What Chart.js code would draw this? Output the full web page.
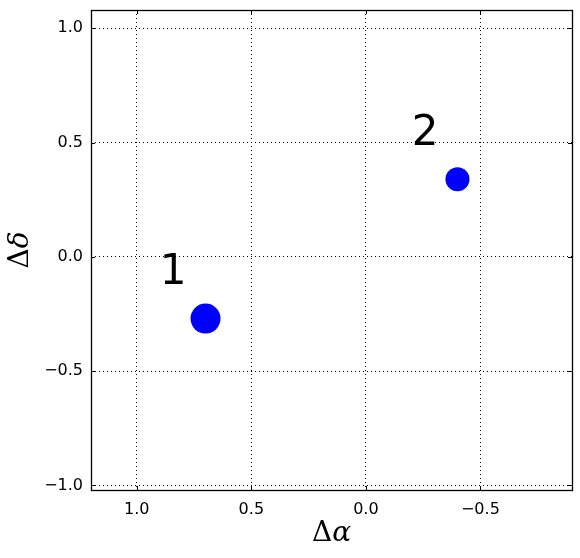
<!DOCTYPE html>
<html>
<head>
<meta charset="utf-8">
<script src="https://cdn.jsdelivr.net/npm/chart.js@4.4.0/dist/chart.umd.min.js"></script>
<style>
  html, body { margin: 0; padding: 0; background: #fff; }
  #wrap { width: 580px; height: 558px; }
</style>
</head>
<body>
<div id="wrap"><canvas id="offsetChart" width="580" height="558"></canvas></div>
<script>
// source offsets (arcsec)
const names = ['1', '2'];
const dAlpha = [0.70, -0.40];
const dDelta = [-0.27, 0.34];
const markerRadius = [15, 12];
// where the number labels sit (data coords, left/baseline)
const labelAlpha = [0.90, -0.20];
const labelDelta = [-0.12, 0.49];

const xTicks = [1.0, 0.5, 0.0, -0.5];
const yTicks = [-1.0, -0.5, 0.0, 0.5, 1.0];

const fmt = v => (v < 0 ? '\u2212' : '') + Math.abs(v).toFixed(1);

// frame, inward ticks, labels, axis titles
const decorations = {
  id: 'decorations',
  afterDraw(chart) {
    const { ctx, chartArea: a, scales: { x, y } } = chart;
    ctx.save();
    ctx.strokeStyle = '#000';
    ctx.lineWidth = 1;
    ctx.beginPath();
    xTicks.forEach(v => {
      const px = Math.round(x.getPixelForValue(v)) + 0.5;
      ctx.moveTo(px, a.bottom); ctx.lineTo(px, a.bottom - 4);
      ctx.moveTo(px, a.top); ctx.lineTo(px, a.top + 4);
    });
    yTicks.forEach(v => {
      const py = Math.round(y.getPixelForValue(v)) + 0.5;
      ctx.moveTo(a.left, py); ctx.lineTo(a.left + 4, py);
      ctx.moveTo(a.right, py); ctx.lineTo(a.right - 4, py);
    });
    ctx.stroke();
    ctx.lineWidth = 1.3;
    ctx.strokeRect(Math.round(a.left) + 0.5, Math.round(a.top) + 0.5,
      Math.round(a.right - a.left), Math.round(a.bottom - a.top));

    ctx.fillStyle = '#000';
    ctx.font = '42px "DejaVu Sans"';
    ctx.textAlign = 'left';
    ctx.textBaseline = 'alphabetic';
    names.forEach((n, i) => {
      ctx.fillText(n, x.getPixelForValue(labelAlpha[i]), y.getPixelForValue(labelDelta[i]));
    });

    // axis titles
    const drawTitle = (cx, cy, greek) => {
      ctx.font = '28px "DejaVu Serif"';
      const w1 = ctx.measureText('\u0394').width;
      ctx.font = 'italic 28px "DejaVu Serif"';
      const w2 = ctx.measureText(greek).width;
      const x0 = cx - (w1 + w2) / 2;
      ctx.textAlign = 'left';
      ctx.textBaseline = 'middle';
      ctx.font = '28px "DejaVu Serif"';
      ctx.fillText('\u0394', x0, cy);
      ctx.font = 'italic 28px "DejaVu Serif"';
      ctx.fillText(greek, x0 + w1, cy);
    };
    drawTitle((a.left + a.right) / 2, 534, '\u03b1');
    ctx.translate(21, (a.top + a.bottom) / 2);
    ctx.rotate(-Math.PI / 2);
    drawTitle(0, 0, '\u03b4');
    ctx.restore();
  }
};

const gridStyle = {
  color: '#000',
  lineWidth: 1,
  drawTicks: false
};

new Chart(document.getElementById('offsetChart').getContext('2d'), {
  type: 'scatter',
  data: {
    datasets: [{
      data: dAlpha.map((v, i) => ({ x: v, y: dDelta[i] })),
      backgroundColor: '#0000ff',
      borderWidth: 0,
      pointRadius: markerRadius,
      pointHoverRadius: markerRadius
    }]
  },
  options: {
    responsive: false,
    animation: false,
    events: [],
    layout: { autoPadding: false, padding: { top: 10, right: 8, left: 0, bottom: 0 } },
    plugins: { legend: { display: false }, tooltip: { enabled: false } },
    scales: {
      x: {
        type: 'linear',
        reverse: true,
        min: -0.9,
        max: 1.2,
        afterBuildTicks: s => { s.ticks = xTicks.map(v => ({ value: v })); },
        afterFit: s => { s.height = 68; s.paddingLeft = 0; s.paddingRight = 0; },
        grid: gridStyle,
        border: { display: false, dash: [1, 3] },
        ticks: {
          padding: 10,
          color: '#000',
          font: { family: 'DejaVu Sans', size: 16 },
          maxRotation: 0,
          callback: v => fmt(v)
        }
      },
      y: {
        type: 'linear',
        min: -1.02,
        max: 1.08,
        afterBuildTicks: s => { s.ticks = yTicks.map(v => ({ value: v })); },
        afterFit: s => { s.width = 91; s.paddingTop = 0; s.paddingBottom = 0; },
        grid: gridStyle,
        border: { display: false, dash: [1, 3] },
        ticks: {
          padding: 8,
          color: '#000',
          font: { family: 'DejaVu Sans', size: 16 },
          callback: v => fmt(v)
        }
      }
    }
  },
  plugins: [decorations]
});
</script>
</body>
</html>
